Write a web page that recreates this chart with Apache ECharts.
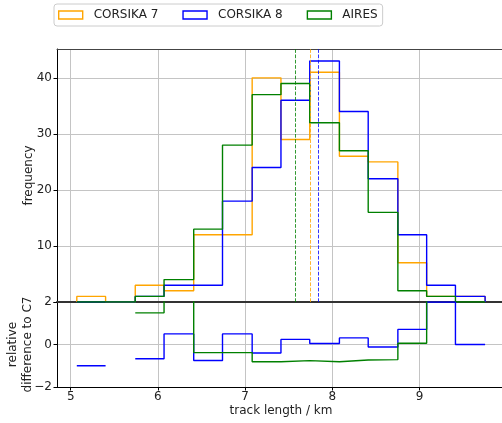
<!DOCTYPE html>
<html>
<head>
<meta charset="utf-8">
<script src="https://cdn.jsdelivr.net/npm/echarts@6/dist/echarts.min.js"></script>
<style>
  html, body { margin: 0; padding: 0; background: #ffffff; }
  #chart { width: 502px; height: 423px; }
</style>
</head>
<body>
<div id="chart"></div>
<script>
// Histogram bin edges (km) shared by all simulations
const binEdges = [5.07, 5.40, 5.74, 6.07, 6.41, 6.74, 7.08, 7.41, 7.74, 8.08, 8.41, 8.75, 9.08, 9.41, 9.75];

// Counts per bin
const corsika7 = [1, 0, 3, 2, 12, 12, 40, 29, 41, 26, 25, 7, 1, 1];
const corsika8 = [0, 0, 1, 3, 3, 18, 24, 36, 43, 34, 22, 12, 3, 1];
const aires    = [0, 0, 1, 4, 13, 28, 37, 39, 32, 27, 16, 2, 1, 0];

// Mean track lengths (km)
const meanC7 = 7.75;
const meanC8 = 7.84;
const meanAires = 7.57;

// Relative difference to CORSIKA 7 per bin (null = undefined bin)
const relC8    = [-1, null, -0.67, 0.5, -0.75, 0.5, -0.4, 0.24, 0.05, 0.31, -0.12, 0.71, 2, 0];
const relAires = [null, null, 1.49, 3, -0.38, -0.38, -0.81, -0.76, -0.81, -0.73, -0.71, 0.06, 3, null];

// Tick positions
const xTicks = [5, 6, 7, 8, 9];
const freqTicks = [0, 10, 20, 30, 40];
const relTicks = [-2, 0, 2];

const COLORS = { c7: '#ffa500', c8: '#0000ff', aires: '#008000' };
const FONT = 'DejaVu Sans';
const GRID_COLOR = '#c4c4c4';

// closed step outline of a histogram (like histtype="step")
function outline(vals) {
  const pts = [[binEdges[0], 0]];
  vals.forEach((v, i) => pts.push([binEdges[i], v]));
  pts.push([binEdges[vals.length], 0]);
  return pts;
}

// contiguous runs of defined bins, each drawn as open stairs
function stairRuns(vals) {
  const runs = [];
  let cur = null;
  vals.forEach((v, i) => {
    if (v === null) { cur = null; return; }
    if (!cur) { cur = []; runs.push(cur); }
    cur.push([binEdges[i], v]);
    if (i === vals.length - 1 || vals[i + 1] === null) cur.push([binEdges[i + 1], v]);
  });
  return runs;
}

function histSeries(name, vals, color, mean) {
  return {
    name, type: 'line', xAxisIndex: 0, yAxisIndex: 0,
    data: outline(vals), step: 'end', symbol: 'none', clip: true,
    lineStyle: { color, width: 1.4 }, itemStyle: { color },
    emphasis: { disabled: true }, animation: false,
    markLine: {
      silent: true, symbol: ['none', 'none'], label: { show: false },
      lineStyle: { color, width: 1, type: [3.7, 1.6], opacity: 0.8 },
      data: [{ xAxis: mean }], animation: false
    }
  };
}

function relSeries(name, vals, color) {
  return stairRuns(vals).map((run, k) => ({
    name: name + ' ' + k, type: 'line', xAxisIndex: 2, yAxisIndex: 1,
    data: run, step: 'end', symbol: 'none', clip: true,
    lineStyle: { color, width: 1.4 }, itemStyle: { color },
    emphasis: { disabled: true }, animation: false
  }));
}

const X_MIN = 4.843, X_MAX = 9.978;
const axisText = { fontFamily: FONT, fontSize: 12, color: '#222' };
const minus = v => String(v).replace('-', '\u2212');

const option = {
  animation: false,
  textStyle: { fontFamily: FONT },
  legend: {
    left: 54, top: 4,
    padding: [5, 5, 5, 4],
    itemWidth: 24, itemHeight: 8, itemGap: 24,
    borderColor: '#cccccc', borderWidth: 1, borderRadius: 3,
    backgroundColor: 'rgba(255,255,255,0.8)',
    textStyle: { fontFamily: FONT, fontSize: 12, color: '#222', padding: [0, 0, 0, 6] },
    selectedMode: false,
    data: [
      { name: 'CORSIKA 7', icon: 'rect', itemStyle: { color: 'rgba(0,0,0,0)', borderColor: COLORS.c7, borderWidth: 1.4 } },
      { name: 'CORSIKA 8', icon: 'rect', itemStyle: { color: 'rgba(0,0,0,0)', borderColor: COLORS.c8, borderWidth: 1.4 } },
      { name: 'AIRES', icon: 'rect', itemStyle: { color: 'rgba(0,0,0,0)', borderColor: COLORS.aires, borderWidth: 1.4 } }
    ]
  },
  grid: [
    { left: 57, top: 49, width: 448, height: 253, containLabel: false, outerBoundsMode: 'none' },
    { left: 57, top: 302, width: 448, height: 85, containLabel: false, outerBoundsMode: 'none' }
  ],
  xAxis: [
    { // upper panel, shared x
      type: 'value', gridIndex: 0, position: 'bottom', min: X_MIN, max: X_MAX,
      axisLine: { show: true, onZero: false, lineStyle: { color: '#333', width: 2 } },
      axisTick: { show: false, customValues: xTicks }, axisLabel: { show: false, customValues: xTicks },
      splitLine: { show: true, lineStyle: { color: GRID_COLOR, width: 1 } }
    },
    { // upper panel top frame
      type: 'value', gridIndex: 0, position: 'top', min: X_MIN, max: X_MAX,
      axisLine: { show: true, onZero: false, lineStyle: { color: '#444', width: 1 } },
      axisTick: { show: false }, axisLabel: { show: false }, splitLine: { show: false }
    },
    { // lower panel
      type: 'value', gridIndex: 1, position: 'bottom', min: X_MIN, max: X_MAX,
      name: 'track length / km', nameLocation: 'middle', nameGap: 18, nameMoveOverlap: false,
      nameTextStyle: axisText,
      axisLine: { show: true, onZero: false, lineStyle: { color: '#000', width: 1 } },
      axisTick: { show: true, length: 3.5, lineStyle: { color: '#000' }, customValues: xTicks },
      axisLabel: { show: true, margin: 4, ...axisText, customValues: xTicks },
      splitLine: { show: true, lineStyle: { color: GRID_COLOR, width: 1 } }
    }
  ],
  yAxis: [
    {
      type: 'value', gridIndex: 0, min: 0, max: 45.15,
      name: 'frequency', nameLocation: 'middle', nameGap: 22, nameRotate: 90, nameMoveOverlap: false,
      nameTextStyle: axisText,
      axisLine: { show: true, onZero: false, lineStyle: { color: '#000', width: 1 } },
      axisTick: { show: true, length: 3.5, lineStyle: { color: '#000' }, customValues: freqTicks },
      axisLabel: { margin: 5, ...axisText, customValues: freqTicks.filter(v => v > 0) },
      splitLine: { show: true, lineStyle: { color: GRID_COLOR, width: 1 } }
    },
    {
      type: 'value', gridIndex: 1, min: -2, max: 2,
      name: 'relative\ndifference to C7', nameLocation: 'middle', nameGap: 21, nameRotate: 90, nameMoveOverlap: false,
      nameTextStyle: { ...axisText, lineHeight: 15.5 },
      axisLine: { show: true, onZero: false, lineStyle: { color: '#000', width: 1 } },
      axisTick: { show: true, length: 3.5, lineStyle: { color: '#000' }, customValues: relTicks },
      axisLabel: { margin: 5, ...axisText, customValues: relTicks, formatter: minus },
      splitLine: { show: true, lineStyle: { color: GRID_COLOR, width: 1 } }
    }
  ],
  series: [
    histSeries('CORSIKA 7', corsika7, COLORS.c7, meanC7),
    histSeries('CORSIKA 8', corsika8, COLORS.c8, meanC8),
    histSeries('AIRES', aires, COLORS.aires, meanAires),
    ...relSeries('CORSIKA 8 rel', relC8, COLORS.c8),
    ...relSeries('AIRES rel', relAires, COLORS.aires)
  ]
};

const chart = echarts.init(document.getElementById('chart'), null, { renderer: 'canvas' });
chart.setOption(option);
</script>
</body>
</html>
